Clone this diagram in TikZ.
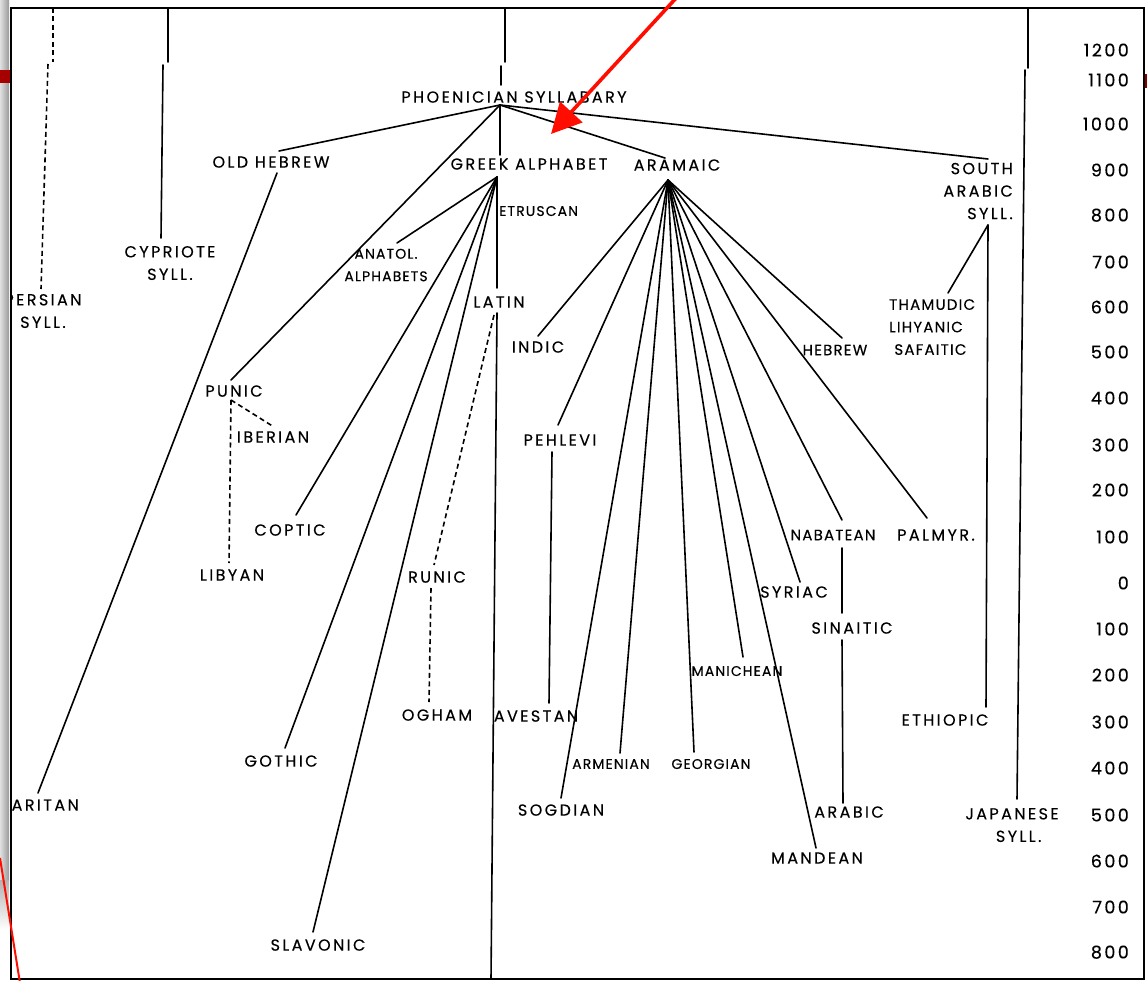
\documentclass[tikz,border=0pt]{standalone}
\usepackage{fontspec}
\setmainfont{Poppins}
\newfontfamily\labfont{Poppins}[LetterSpace=15,FakeBold=0.3]
\newfontfamily\midfont{Poppins}[LetterSpace=8,FakeBold=0.3]
\newfontfamily\smlfont{Poppins}[LetterSpace=8,FakeBold=0.3]
\newfontfamily\yrfont{Poppins}[LetterSpace=14,FakeBold=0.3]
\usetikzlibrary{arrows.meta}
\begin{document}
\begin{tikzpicture}[x=1pt,y=-1pt,
  lab/.style={inner sep=0pt, text depth=0pt, font=\labfont\fontsize{16}{22.5}\selectfont},
  mid/.style={inner sep=0pt, text depth=0pt, font=\midfont\fontsize{15}{22.5}\selectfont},
  sml/.style={inner sep=0pt, text depth=0pt, font=\smlfont\fontsize{14}{22.5}\selectfont},
  yr/.style={inner sep=0pt, text depth=0pt, anchor=east, font=\yrfont\fontsize{17.5}{18}\selectfont},
  ln/.style={line width=1.6pt, line cap=round},
  dl/.style={line width=1.6pt, dash pattern=on 5pt off 3.5pt},
  redln/.style={draw=red!90!orange, line width=2pt}]
\useasboundingbox (0,0) rectangle (1147,981);
% screen shadow strip and marks
\shade[left color=black!12, right color=black!40] (0,0) rectangle (9,880);
\shade[top color=black!30, bottom color=white] (0,880) rectangle (9,930);
\fill[red!65!black] (0,70) rectangle (10,83);
\fill[red!50!black] (1144,74) rectangle (1147,88);
% frame
\draw[line width=1.6pt] (11,8) rectangle (1144,979);
\begin{scope}
\clip (11,8) rectangle (1144,979);
% ---------- labels ----------
\node[lab] (phoen) at (514,97) {PHOENICIAN SYLLABARY};
\node[lab] (oldheb) at (271,162) {OLD HEBREW};
\node[lab] (greek) at (529,164) {GREEK ALPHABET};
\node[lab] (aram) at (677,165) {ARAMAIC};
\node[lab, align=right, anchor=east] (sarab) at (1013,191) {SOUTH\\ARABIC\\SYLL.};
\node[sml, anchor=west] (etr) at (499,211) {ETRUSCAN};
\node[sml, align=center] (anat) at (386,265) {ANATOL.\\ALPHABETS};
\node[lab, align=center] (cyp) at (170,263) {CYPRIOTE\\SYLL.};
\node[lab, align=center] (pers) at (43,311) {PERSIAN\\SYLL.};
\node[lab] (latin) at (499,302) {LATIN};
\node[lab] (indic) at (538,347) {INDIC};
\node[mid] (hebrew) at (835,350) {HEBREW};
\node[mid, align=left, anchor=west] (tham) at (889,327) {THAMUDIC\\LIHYANIC\\\ SAFAITIC};
\node[lab] (punic) at (234,391) {PUNIC};
\node[lab] (iberian) at (273,437) {IBERIAN};
\node[lab] (coptic) at (290,530) {COPTIC};
\node[lab] (libyan) at (232,575) {LIBYAN};
\node[lab] (pehlevi) at (560,440) {PEHLEVI};
\node[lab] (runic) at (437,577) {RUNIC};
\node[mid] (nabatean) at (833,535) {NABATEAN};
\node[lab] (palmyr) at (936,535) {PALMYR.};
\node[lab] (syriac) at (794,592) {SYRIAC};
\node[lab] (sinaitic) at (852,628) {SINAITIC};
\node[sml] (manichean) at (737,671) {MANICHEAN};
\node[lab] (ogham) at (437,715) {OGHAM};
\node[lab] (avestan) at (536,716) {AVESTAN};
\node[lab] (ethiopic) at (945,720) {ETHIOPIC};
\node[lab] (gothic) at (281,761) {GOTHIC};
\node[sml] (armenian) at (611,764) {ARMENIAN};
\node[sml] (georgian) at (711,764) {GEORGIAN};
\node[lab, anchor=east] (samaritan) at (79,805) {SAMARITAN};
\node[lab] (sogdian) at (561,810) {SOGDIAN};
\node[lab] (arabic) at (849,812) {ARABIC};
\node[lab, align=center] (japanese) at (1012,825) {JAPANESE\\\ \ SYLL.};
\node[lab] (mandean) at (817,858) {MANDEAN};
\node[lab] (slavonic) at (318,945) {SLAVONIC};
% ---------- years ----------
\foreach \t/\yy in {1200/50,1100/80,1000/124,900/170,800/215,700/262,600/307,500/352,400/398,300/445,200/490,100/537,0/583}
  \node[yr] (ya\t) at (1129,\yy) {\t};
\foreach \t/\yy in {100/629,200/675,300/722,400/768,500/815,600/861,700/907,800/952}
  \node[yr] (yb\t) at (1129,\yy) {\t};
% ---------- coordinates ----------
\coordinate (pA1) at (53,8);   \coordinate (pA2) at (53,62);
\coordinate (pA3) at (48,64);  \coordinate (pA4) at (41,289);
\coordinate (cA1) at (168,8);  \coordinate (cA2) at (168,62);
\coordinate (cA3) at (163,65); \coordinate (cA4) at (161,238);
\coordinate (ph1) at (505,8);  \coordinate (ph2) at (505,62);
\coordinate (ph3) at (501,66); \coordinate (ph4) at (501,85);
\coordinate (jp1) at (1028,8); \coordinate (jp2) at (1028,68);
\coordinate (jp3) at (1025,70);\coordinate (jp4) at (1017,799);
\coordinate (hP) at (500,105);
\coordinate (hG) at (497,177);
\coordinate (hA) at (668,180);
\coordinate (hS) at (988,225);
\coordinate (eOH) at (279,151);
\coordinate (ePu) at (231,380);
\coordinate (eGr) at (500,155);
\coordinate (eAr) at (665,158);
\coordinate (eSA) at (988,159);
\coordinate (sOH) at (277,173);
\coordinate (eSam) at (38,793);
\coordinate (eAn) at (397,243);
\coordinate (eCo) at (296,515);
\coordinate (eGo) at (285,748);
\coordinate (eSl) at (313,932);
\coordinate (eLa) at (497,288);
\coordinate (sLa) at (497,313);
\coordinate (bot) at (491,979);
\coordinate (sRu) at (494,315);
\coordinate (eRu) at (434,565);
\coordinate (sOg) at (431,588);
\coordinate (eOg) at (429,702);
\coordinate (sPu) at (231,400);
\coordinate (eIb) at (274,427);
\coordinate (eLi) at (229,563);
\coordinate (eIn) at (538,336);
\coordinate (ePe) at (558,425);
\coordinate (eSo) at (561,798);
\coordinate (eArm) at (620,753);
\coordinate (eGe) at (694,752);
\coordinate (eMa) at (743,657);
\coordinate (eMd) at (816,848);
\coordinate (eSy) at (800,582);
\coordinate (eNa) at (842,520);
\coordinate (ePa) at (927,518);
\coordinate (eHe) at (842,338);
\coordinate (sPe) at (552,452);
\coordinate (eAv) at (549,703);
\coordinate (sNa) at (842,548);
\coordinate (eSi) at (842,613);
\coordinate (sSi) at (842,640);
\coordinate (eAb) at (843,803);
\coordinate (eTh) at (948,293);
\coordinate (eEt) at (986,707);
% ---------- connectors ----------
\draw[dl] (pA1) -- (pA2);
\draw[dl] (pA3) -- (pA4);
\draw[ln] (cA1) -- (cA2);
\draw[ln] (cA3) -- (cA4);
\draw[ln] (ph1) -- (ph2);
\draw[ln] (ph3) -- (ph4);
\draw[ln] (jp1) -- (jp2);
\draw[ln] (jp3) -- (jp4);
\foreach \e in {eOH,ePu,eGr,eAr,eSA} \draw[ln] (hP) -- (\e);
\draw[ln] (sOH) -- (eSam);
\foreach \e in {eAn,eCo,eGo,eSl,eLa} \draw[ln] (hG) -- (\e);
\draw[ln] (sLa) -- (bot);
\draw[dl] (sRu) -- (eRu);
\draw[dl] (sOg) -- (eOg);
\draw[dl] (sPu) -- (eIb);
\draw[dl] (sPu) -- (eLi);
\foreach \e in {eIn,ePe,eSo,eArm,eGe,eMa,eMd,eSy,eNa,ePa,eHe} \draw[ln] (hA) -- (\e);
\draw[ln] (sPe) -- (eAv);
\draw[ln] (sNa) -- (eSi);
\draw[ln] (sSi) -- (eAb);
\draw[ln] (hS) -- (eTh);
\draw[ln] (hS) -- (eEt);
\end{scope}
% ---------- red annotations ----------
\coordinate (arS) at (678,-4);
\coordinate (arE) at (551,134);
\draw[redln, line width=3.6pt, -{Triangle[length=30pt,width=30pt]}] (arS) -- (arE);
\coordinate (rl1) at (0,858);
\coordinate (rl2) at (20,983);
\draw[redln] (rl1) -- (rl2);
\end{tikzpicture}
\end{document}
